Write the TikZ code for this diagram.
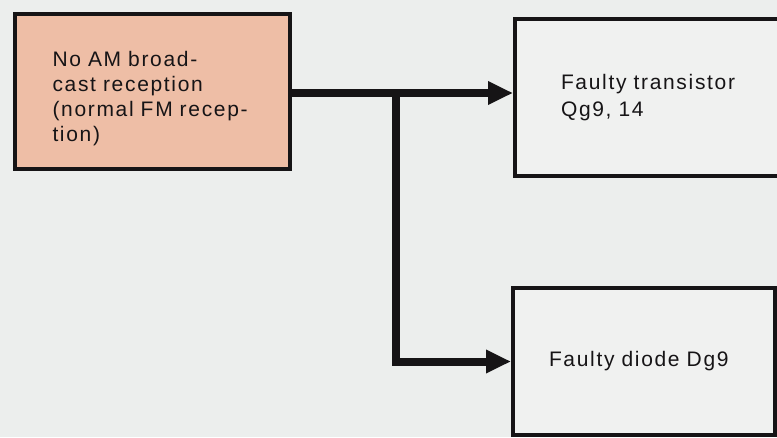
\documentclass[tikz,border=0pt]{standalone}
\usepackage{fontspec}
\setmainfont{Liberation Sans}[LetterSpace=8]
\usetikzlibrary{arrows.meta}
\definecolor{bg}{RGB}{236,238,237}
\definecolor{salmon}{RGB}{238,190,166}
\definecolor{boxfill}{RGB}{240,241,240}
\definecolor{ink}{RGB}{22,20,22}
\tikzset{
  box/.style={draw=ink, line width=4pt, rectangle, align=left, anchor=north west,
    font=\fontsize{21}{26.5}\selectfont, text=ink},
  conn/.style={draw=ink, line width=8pt, -{Triangle[length=25pt,width=22pt]}},
}
\begin{document}
\begin{tikzpicture}[x=1pt,y=-1pt]
\fill[bg] (0,0) rectangle (777,437);
\useasboundingbox (0,0) rectangle (777,437);
\clip (0,0) rectangle (777,437);
\node[box, fill=salmon, minimum width=275pt, minimum height=155pt, text width=200pt, inner xsep=37pt,
  font=\fontsize{21}{25}\selectfont] (left) at (13,12)
  {\rule{0pt}{30pt}No AM broad-\\cast reception\\(normal FM recep-\\tion)};
\node[box, fill=boxfill, minimum width=272pt, minimum height=157pt, text width=180pt, inner xsep=45pt] (top) at (513,17)
  {Faulty transistor\\Qg9, 14};
\node[box, fill=boxfill, minimum width=262pt, minimum height=147pt, text width=190pt, inner xsep=35pt] (bot) at (511,286)
  {Faulty diode Dg9};
\coordinate (j) at (396,93);
\draw[conn] (left.east |- j) -- (j -| top.west);
\draw[conn] ([yshift=-4pt]j) |- (bot.west);
\end{tikzpicture}
\end{document}
